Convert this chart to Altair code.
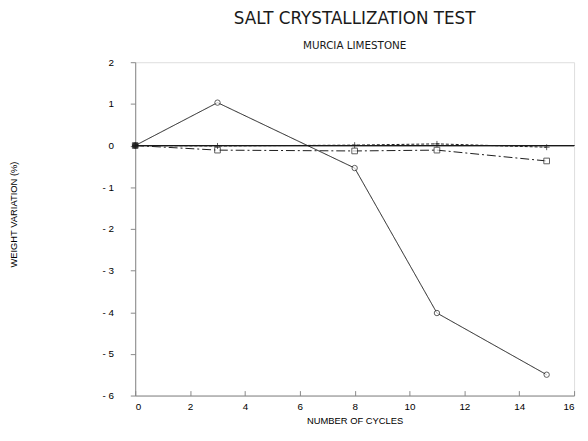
import altair as alt
import pandas as pd

cycles = [0, 3, 8, 11, 15]
circle_vals = [0.0, 1.03, -0.54, -4.02, -5.5]
square_vals = [0.0, -0.11, -0.13, -0.11, -0.37]
plus_vals = [0.0, -0.01, 0.01, 0.04, -0.04]
series_names = ["circle", "square", "plus"]

rows = []
for name, vals in zip(series_names, [circle_vals, square_vals, plus_vals]):
    for c, v in zip(cycles, vals):
        rows.append({"cycles": c, "weight": v, "series": name})
df = pd.DataFrame(rows)

FONT = "DejaVu Sans"
INK = "#1a1a1a"

x_enc = alt.X(
    "cycles:Q",
    scale=alt.Scale(domain=[0, 16], nice=False),
    axis=alt.Axis(
        title="NUMBER OF CYCLES",
        values=list(range(0, 17)),
        labelExpr="datum.value % 2 == 0 ? datum.label : ''",
        tickSize={"expr": "-5"},
        labelPadding=11,
        titlePadding=4,
        titleFontWeight="normal",
        titleFontSize=9.5,
        grid=False,
    ),
)
y_enc = alt.Y(
    "weight:Q",
    scale=alt.Scale(domain=[-6, 2], nice=False),
    axis=alt.Axis(
        title="WEIGHT VARIATION (%)",
        values=list(range(-6, 3)),
        labelExpr="datum.value < 0 ? '- ' + abs(datum.value) : datum.label",
        tickSize=5,
        labelPadding=17,
        titleAngle=270,
        titleX=-123,
        titleY=154,
        titleAlign="center",
        titleBaseline="middle",
        titleFontWeight="normal",
        titleFontSize=9.5,
        grid=False,
    ),
)

base = alt.Chart(df)

zero = base.mark_rule(color=INK, strokeWidth=0.8).encode(y=alt.datum(0))

lines = base.mark_line(color=INK, strokeWidth=1).encode(
    x=x_enc,
    y=y_enc,
    detail="series:N",
    strokeDash=alt.StrokeDash(
        "series:N",
        scale=alt.Scale(domain=series_names, range=[[1, 0], [9, 3, 2, 3], [3, 2]]),
        legend=None,
    ),
)

points = base.mark_point(filled=False, strokeWidth=1, color=INK).encode(
    x="cycles:Q",
    y="weight:Q",
    shape=alt.Shape(
        "series:N",
        scale=alt.Scale(
            domain=series_names,
            range=["circle", "square", "M-1,0L1,0M0,-1L0,1"],
        ),
        legend=None,
    ),
    size=alt.Size(
        "series:N",
        scale=alt.Scale(domain=series_names, range=[30, 36, 60]),
        legend=None,
    ),
    fill=alt.condition("datum.cycles == 0", alt.value(INK), alt.value("white")),
)

chart = (
    alt.layer(zero, lines, points)
    .properties(
        width=445,
        height=338,
        autosize=alt.AutoSizeParams(type="none"),
        padding={"left": 129, "top": 52, "right": 6, "bottom": 34},
        title=alt.TitleParams(
            text="SALT CRYSTALLIZATION TEST",
            subtitle="MURCIA LIMESTONE",
            anchor="middle",
            frame="group",
            fontSize=17,
            fontWeight="normal",
            font=FONT,
            color=INK,
            subtitleFont=FONT,
            subtitleFontSize=10.5,
            subtitleColor=INK,
            subtitlePadding=13,
            offset=5,
        ),
    )
    .configure_view(stroke=INK, strokeWidth=1)
    .configure_axis(
        domainColor=INK,
        tickColor=INK,
        labelColor=INK,
        titleColor=INK,
        labelFont=FONT,
        titleFont=FONT,
        labelFontSize=9,
        domainWidth=1,
        tickWidth=1,
    )
    .configure(background="white")
)

chart.save("out.html", embed_options={"renderer": "svg", "actions": False})
